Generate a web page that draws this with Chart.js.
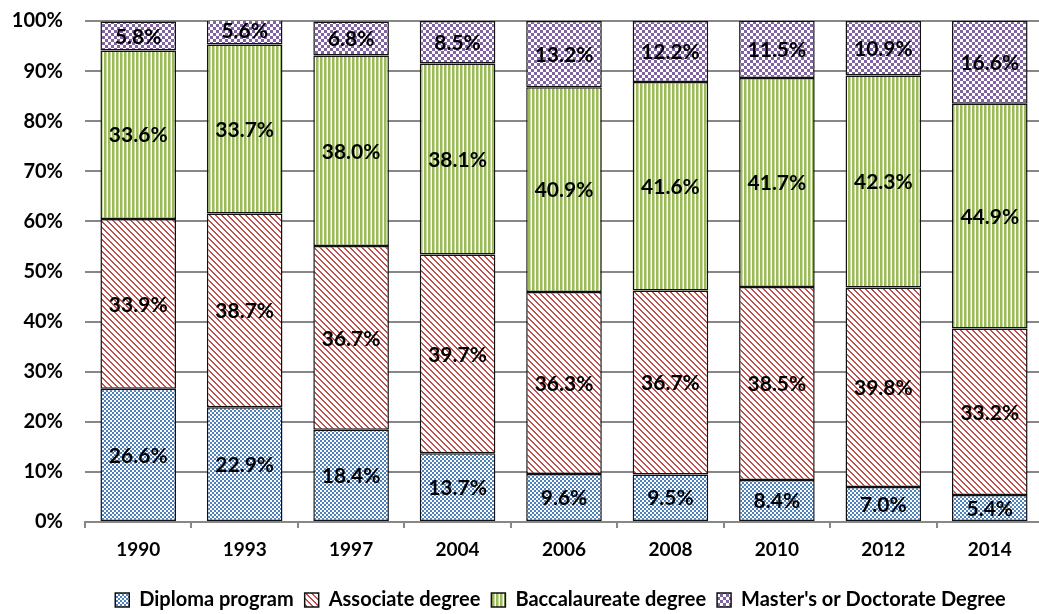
<!DOCTYPE html>
<html>
<head>
<meta charset="utf-8">
<script src="https://cdn.jsdelivr.net/npm/chart.js@4"></script>
<style>
  html, body { margin: 0; padding: 0; background: #fff; overflow: hidden; }
  #wrap { width: 1043px; height: 614px; position: relative; }
</style>
</head>
<body>
<div id="wrap"><canvas id="chart"></canvas></div>
<script>
// data
const years = ['1990', '1993', '1997', '2004', '2006', '2008', '2010', '2012', '2014'];
const diploma       = [26.6, 22.9, 18.4, 13.7, 9.6, 9.5, 8.4, 7.0, 5.4];
const associate     = [33.9, 38.7, 36.7, 39.7, 36.3, 36.7, 38.5, 39.8, 33.2];
const baccalaureate = [33.6, 33.7, 38.0, 38.1, 40.9, 41.6, 41.7, 42.3, 44.9];
const masters       = [5.8, 5.6, 6.8, 8.5, 13.2, 12.2, 11.5, 10.9, 16.6];
const yTicks = [0, 10, 20, 30, 40, 50, 60, 70, 80, 90, 100];

const FONT = 'Lato, "Open Sans", sans-serif';
const PLOT_BOTTOM = 522;

// small tile patterns like the excel fills
function makePattern(size, draw) {
    const c = document.createElement('canvas');
    c.width = size; c.height = size;
    const g = c.getContext('2d');
    g.fillStyle = '#fff';
    g.fillRect(0, 0, size, size);
    draw(g);
    return document.getElementById('chart').getContext('2d').createPattern(c, 'repeat');
}

const blueCheck = makePattern(4, g => {
    g.fillStyle = '#4f81bd';
    g.fillRect(0, 0, 2, 2);
    g.fillRect(2, 2, 2, 2);
});
const redDiag = makePattern(6, g => {
    g.fillStyle = '#c0504d';
    for (let i = 0; i < 6; i++) g.fillRect(i, i, 1, 1);
    for (let i = 0; i < 5; i++) g.fillRect(i + 1, i, 1, 1);
    g.fillRect(0, 5, 1, 1);
});
const greenVert = makePattern(4, g => {
    g.fillStyle = '#9bbb59';
    g.fillRect(0, 0, 2, 4);
    g.fillStyle = '#c9daa8';
    g.fillRect(2, 0, 1, 4);
});
const purpleCheck = makePattern(6, g => {
    g.fillStyle = '#8064a2';
    g.fillRect(0, 0, 3, 3);
    g.fillRect(3, 3, 3, 3);
});

// labels in the middle of each segment
const segmentLabels = {
    id: 'segmentLabels',
    afterDatasetsDraw(chart) {
        const ctx = chart.ctx;
        ctx.save();
        ctx.font = 'bold 21px ' + FONT;
        ctx.fillStyle = '#000';
        ctx.textAlign = 'center';
        ctx.textBaseline = 'middle';
        chart.data.datasets.forEach((ds, i) => {
            chart.getDatasetMeta(i).data.forEach((bar, j) => {
                const v = ds.data[j];
                const y = (bar.y + bar.base) / 2;
                ctx.fillText(v.toFixed(1) + '%', bar.x, y + 1);
            });
        });
        ctx.restore();
    }
};

// excel puts the legend a bit right of centre and lower
const legendShift = {
    id: 'legendShift',
    afterLayout(chart) {
        if (!chart.legend) return;
        chart.legend.left += 78;
        chart.legend.top += 6;
        chart.legend.bottom += 6;
    }
};

const ds = (label, data, fill) => ({
    label: label,
    data: data,
    backgroundColor: fill,
    borderColor: '#111',
    borderWidth: 1.5,
    borderSkipped: false,
    barPercentage: 0.71,
    categoryPercentage: 1
});

new Chart(document.getElementById('chart'), {
    type: 'bar',
    data: {
        labels: years,
        datasets: [
            ds('Diploma program', diploma, blueCheck),
            ds('Associate degree', associate, redDiag),
            ds('Baccalaureate degree', baccalaureate, greenVert),
            ds("Master's or Doctorate Degree", masters, purpleCheck)
        ]
    },
    options: {
        responsive: true,
        maintainAspectRatio: false,
        animation: false,
        layout: { padding: { top: 21, right: 0, left: 0, bottom: 0 } },
        scales: {
            x: {
                stacked: true,
                grid: { display: true, drawOnChartArea: false, drawTicks: true, tickLength: 6, color: '#878787', lineWidth: 2, offset: true },
                border: { display: true, color: '#878787', width: 2 },
                ticks: { color: '#000', font: { family: FONT, size: 19, weight: 'bold' }, padding: 10 },
                afterFit: s => {
                    const lh = s.chart.legend ? s.chart.legend.height : 0;
                    s.height = s.chart.height - PLOT_BOTTOM - lh;
                }
            },
            y: {
                stacked: true,
                min: 0,
                max: 100,
                afterBuildTicks: s => { s.ticks = yTicks.map(v => ({ value: v })); },
                grid: { color: '#878787', lineWidth: 2, drawTicks: true, tickLength: 22, tickColor: 'rgba(0,0,0,0)' },
                border: { display: false },
                ticks: {
                    color: '#000',
                    font: { family: FONT, size: 20, weight: 'bold' },
                    padding: 0,
                    callback: v => v + '%'
                },
                afterFit: s => { s.width = 85; }
            }
        },
        plugins: {
            legend: {
                position: 'bottom',
                labels: {
                    color: '#000',
                    font: { family: FONT, size: 20, weight: 'bold' },
                    boxWidth: 14,
                    boxHeight: 14,
                    padding: 11
                }
            },
            tooltip: { enabled: false }
        }
    },
    plugins: [segmentLabels, legendShift]
});
</script>
</body>
</html>
